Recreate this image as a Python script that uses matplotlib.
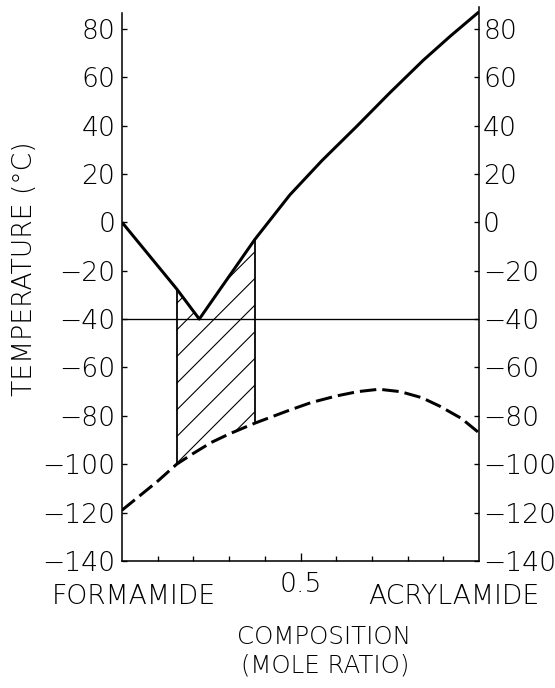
import matplotlib
matplotlib.use("Agg")
import matplotlib.pyplot as plt
import numpy as np

# liquidus (solid line)
liq_x = [0.0, 0.153, 0.2165, 0.3725, 0.47, 0.56, 0.657, 0.75, 0.844, 0.92, 1.0]
liq_y = [0.0, -27.5, -40.0, -7.0, 11.3, 25.5, 39.6, 53.5, 67.0, 77.0, 87.0]

# glass transition (dashed line)
tg_x = [0.0, 0.05, 0.1, 0.153, 0.2, 0.25, 0.3, 0.3725, 0.47, 0.53, 0.6,
        0.66, 0.72, 0.78, 0.84, 0.89, 0.95, 1.0]
tg_y = [-119, -113, -107, -100, -95.5, -91, -87.5, -83, -77.6, -74.5, -71.8,
        -70, -69, -70, -72.5, -76, -81, -87]

eutectic_T = -40
hatch_x = [0.153, 0.3725]
y_ticks = [80, 60, 40, 20, 0, -20, -40, -60, -80, -100, -120, -140]

plt.rcParams['font.family'] = ['DejaVu Sans']
plt.rcParams['font.weight'] = 200
plt.rcParams['hatch.linewidth'] = 0.5

DPI = 160
fig = plt.figure(figsize=(555 / DPI, 688 / DPI), dpi=DPI)
ax = fig.add_axes([122 / 555, 127 / 688, 357 / 555, 554 / 688])

ax.plot(liq_x, liq_y, color='black', lw=1.35, solid_capstyle='butt')
ax.plot(tg_x, tg_y, color='black', lw=1.35, dashes=(5.5, 2))
ax.axhline(eutectic_T, color='black', lw=0.6)

# hatched region between the two curves
xs = np.linspace(hatch_x[0], hatch_x[1], 200)
top = np.interp(xs, liq_x, liq_y)
bot = np.interp(xs, tg_x, tg_y)
ax.fill_between(xs, bot, top, facecolor='none', edgecolor='black',
                hatch='//', linewidth=0)
for hx in hatch_x:
    ax.vlines(hx, np.interp(hx, tg_x, tg_y), np.interp(hx, liq_x, liq_y),
              color='black', lw=0.8)

ax.set_xlim(0, 1)
ax.set_ylim(-140, 89)
ax.spines['top'].set_visible(False)
ax.spines['right'].set_visible(False)
ax.spines['left'].set_bounds(-140, 86.5)
for s in ('left', 'bottom'):
    ax.spines[s].set_linewidth(0.7)

ax.set_yticks(y_ticks)
ax.tick_params(axis='y', direction='in', length=2.2, width=0.6,
               labelsize=12, pad=3)
ax.set_xticks([0.5])
ax.set_xticklabels(['0.5'])
ax.set_xticks([0.1, 0.2, 0.3, 0.4, 0.6, 0.7, 0.8, 0.9], minor=True)
ax.tick_params(axis='x', which='major', direction='in', length=3.6,
               width=0.6, labelsize=12, pad=5)
ax.tick_params(axis='x', which='minor', direction='in', length=2.2, width=0.6)

ax2 = ax.twinx()
ax2.set_ylim(ax.get_ylim())
ax2.set_yticks(y_ticks)
for s in ('top', 'left', 'bottom'):
    ax2.spines[s].set_visible(False)
ax2.spines['right'].set_linewidth(0.7)
ax2.tick_params(axis='y', direction='in', length=2.2, width=0.6,
                labelsize=12, pad=1.8)

fig.text(25 / 555, 1 - 269 / 688, 'TEMPERATURE (°C)', rotation=90,
         ha='center', va='center', fontsize=12)
fig.text(134 / 555, 1 - 596 / 688, 'FORMAMIDE', ha='center', va='center',
         fontsize=12)
fig.text(454 / 555, 1 - 596 / 688, 'ACRYLAMIDE', ha='center', va='center',
         fontsize=12)
fig.text(324 / 555, 1 - 637 / 688, 'COMPOSITION', ha='center', va='center',
         fontsize=11)
fig.text(325 / 555, 1 - 666 / 688, '(MOLE RATIO)', ha='center', va='center',
         fontsize=11)

fig.savefig('out.png', dpi=DPI)
